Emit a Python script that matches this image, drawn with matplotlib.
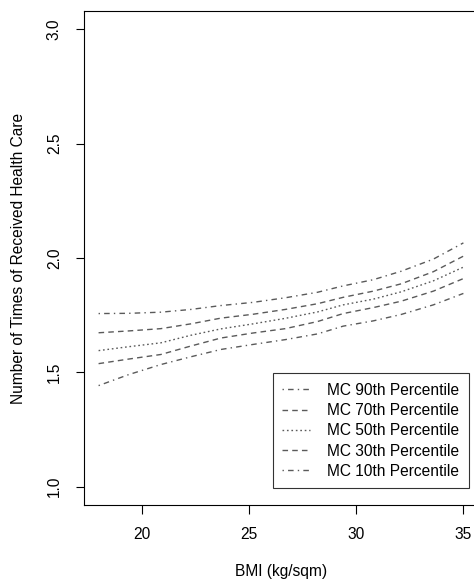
import matplotlib

matplotlib.use("Agg")
import matplotlib.pyplot as plt

plt.rcParams["font.family"] = ["Liberation Sans", "DejaVu Sans"]

# BMI grid and fitted health-care counts for each MC percentile
bmi = [18.0, 19.4, 20.9, 22.3, 23.7, 25.2, 26.7, 28.2, 29.4, 30.8, 32.1, 33.6, 35.0]
mc90 = [1.757, 1.758, 1.763, 1.775, 1.792, 1.806, 1.826, 1.850, 1.878, 1.905, 1.942, 1.995, 2.066]
mc70 = [1.673, 1.681, 1.691, 1.712, 1.737, 1.754, 1.775, 1.800, 1.828, 1.855, 1.887, 1.940, 2.008]
mc50 = [1.595, 1.612, 1.629, 1.662, 1.690, 1.712, 1.736, 1.764, 1.795, 1.820, 1.852, 1.900, 1.960]
mc30 = [1.538, 1.558, 1.578, 1.615, 1.650, 1.672, 1.691, 1.722, 1.757, 1.783, 1.811, 1.855, 1.910]
mc10 = [1.442, 1.490, 1.534, 1.568, 1.600, 1.622, 1.643, 1.668, 1.702, 1.725, 1.753, 1.795, 1.845]

labels = [
    "MC 90th Percentile",
    "MC 70th Percentile",
    "MC 50th Percentile",
    "MC 30th Percentile",
    "MC 10th Percentile",
]
x_ticks = [20, 25, 30, 35]
y_ticks = [1.0, 1.5, 2.0, 2.5, 3.0]

# R-style line types: dotdash, dashed, dotted, dashed, dotdash
dash_patterns = [(1, 3, 4, 3), (4, 3), (1.2, 2), (4, 3), (1, 3, 4, 3)]
line_color = "#5a5a5a"
fs = 11.2

fig = plt.figure(figsize=(4.74, 5.84), dpi=100)
ax = fig.add_axes([0.1772, 0.1353, 0.8312, 0.8459])

handles = []
for series, label, dashes in zip([mc90, mc70, mc50, mc30, mc10], labels, dash_patterns):
    (ln,) = ax.plot(bmi, series, color=line_color, lw=1.0, dashes=dashes, label=label)
    handles.append(ln)

ax.set_xlim(17.32, 35.68)
ax.set_ylim(0.92, 3.08)
ax.set_xticks(x_ticks)
ax.set_xticklabels([str(t) for t in x_ticks])
ax.set_yticks(y_ticks)
ax.set_yticklabels([f"{t:.1f}" for t in y_ticks])

ax.tick_params(axis="x", length=6.5, width=0.8, pad=9.0, labelsize=fs)
ax.tick_params(axis="y", length=6.0, width=0.8, pad=10.0, labelsize=fs)
for lab in ax.get_yticklabels():
    lab.set_rotation(90)
    lab.set_va("center")

for spine in ax.spines.values():
    spine.set_linewidth(0.8)
    spine.set_color("black")

ax.set_xlabel("BMI (kg/sqm)", fontsize=fs, labelpad=16)
ax.set_ylabel("Number of Times of Received Health Care", fontsize=fs, labelpad=15)

leg = ax.legend(
    handles=handles,
    loc="lower right",
    bbox_to_anchor=(0.977, 0.034),
    borderaxespad=0,
    fontsize=fs,
    frameon=True,
    fancybox=False,
    edgecolor="black",
    handlelength=1.75,
    handletextpad=1.15,
    labelspacing=0.34,
    borderpad=0.6,
)
leg.get_frame().set_linewidth(0.8)

fig.savefig("out.png", dpi=100)
plt.close(fig)
